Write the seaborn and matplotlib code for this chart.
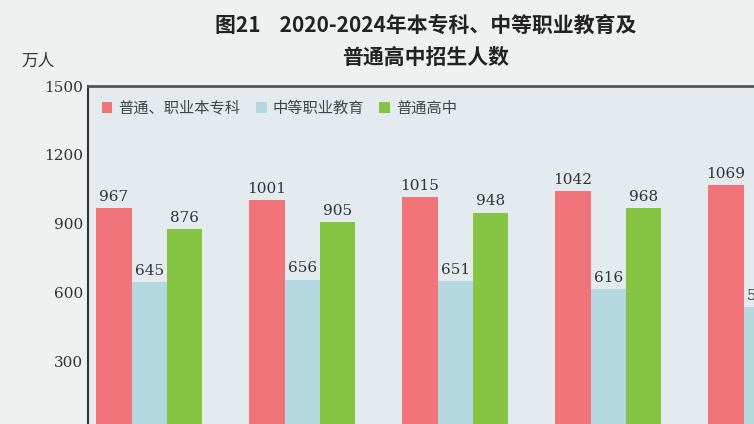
import numpy as np
import pandas as pd
import matplotlib
matplotlib.use('Agg')
import matplotlib.pyplot as plt
import seaborn as sns

years = ['2020', '2021', '2022', '2023', '2024']
series = ['普通、职业本专科', '中等职业教育', '普通高中']
higher = [967, 1001, 1015, 1042, 1069]
vocational = [645, 656, 651, 616, 535]
senior = [876, 905, 948, 968, 1002]
colors = ['#f07479', '#b5d7df', '#86c443']

df = pd.DataFrame({'year': years * 3,
                   'type': [s for s in series for _ in years],
                   'value': higher + vocational + senior})

sns.set_style('white')
plt.rcParams['font.family'] = ['Noto Sans CJK SC', 'DejaVu Sans']

fig = plt.figure(figsize=(7.54, 4.24), dpi=100)
fig.patch.set_facecolor('#eff1f1')
# axes runs past the right and bottom edge, like the cropped original
ax = fig.add_axes([88/754, -6/424, 765/754, 344/424])
ax.set_facecolor('#e3ebef')

sns.barplot(data=df, x='year', y='value', hue='type', palette=colors,
            width=0.69, gap=0, saturation=1, linewidth=0, ax=ax, legend=True)

for cont in ax.containers:
    ax.bar_label(cont, padding=3, fontsize=11, family='DejaVu Serif', color='#333333')

ax.set_xlim(-0.4, 4.6)
ax.set_ylim(0, 1500)
ax.set_yticks([0, 300, 600, 900, 1200, 1500])
ax.tick_params(axis='y', direction='in', length=6, labelsize=11, colors='#333333')
for t in ax.get_yticklabels():
    t.set_family('DejaVu Serif')
ax.set_xlabel('')
ax.set_ylabel('')
ax.set_xticks([])
for s in ['right', 'bottom']:
    ax.spines[s].set_visible(False)
ax.spines['left'].set_color('#333333')
ax.spines['top'].set_color('#555555')
ax.spines['left'].set_linewidth(1.5)
ax.spines['top'].set_linewidth(2)

leg = ax.legend(loc='upper left', bbox_to_anchor=(0.0, 1.0), ncol=3, frameon=False,
                fontsize=11, handlelength=0.7, handleheight=0.7, handletextpad=0.4,
                columnspacing=1.0, labelcolor='#444444')

fig.text(0.565, 0.94, '图21    2020-2024年本专科、中等职业教育及', ha='center', va='center',
         fontsize=15, fontweight='bold', color='#222222')
fig.text(0.565, 0.865, '普通高中招生人数', ha='center', va='center',
         fontsize=15, fontweight='bold', color='#222222')
fig.text(0.05, 0.855, '万人', ha='center', va='center', fontsize=12, color='#333333')

fig.savefig('out.png', dpi=100, facecolor=fig.get_facecolor())
